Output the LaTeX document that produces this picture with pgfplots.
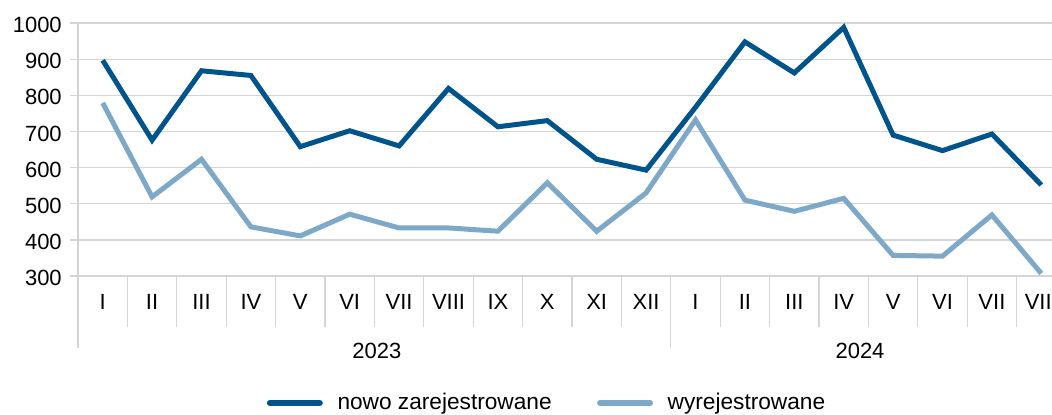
\documentclass[border=0pt]{standalone}
\usepackage{pgfplots}
\pgfplotsset{compat=1.18}
\usepackage{pgfplotstable}
\usepackage{fontspec}
\setmainfont{Liberation Sans}
\definecolor{dkblue}{RGB}{0,84,140}
\definecolor{ltblue}{RGB}{126,168,200}
\definecolor{gridgray}{RGB}{212,212,212}

\pgfplotstableread{
x nowo wyrej
0 897 779
1 676 519
2 868 623
3 855 436
4 658 411
5 702 471
6 660 433
7 819 433
8 713 424
9 730 558
10 623 424
11 593 530
12 767 732
13 948 510
14 862 479
15 988 515
16 690 357
17 647 355
18 693 469
19 552 307
}\data

\begin{document}
\fontsize{16.5}{20}\selectfont
\begin{tikzpicture}
\begin{axis}[
  at={(58.5pt,-207pt)}, anchor=south west,
  x=37.05pt, y=0.271pt,
  xmin=-0.5, xmax=19.5, ymin=300, ymax=1000,
  clip=false,
  axis x line=bottom, axis y line=left,
  axis line style={gridgray, line width=1pt, -},
  ytick={300,400,...,1000},
  ymajorgrids, grid style={gridgray, line width=1pt},
  ytick style={gridgray, line width=1pt},
  xtick style={draw=none},
  tick align=outside,
  major tick length=6pt,
  xtick={0,...,19},
  xticklabels={I,II,III,IV,V,VI,VII,VIII,IX,X,XI,XII,I,II,III,IV,V,VI,VII,VIII},
  xticklabel style={anchor=base, yshift=-19pt},
  yticklabel style={anchor=east, inner sep=0pt, xshift=-6pt, yshift=-1.5pt},
  /pgf/number format/assume math mode=true,
  /pgf/number format/1000 sep={},
  legend columns=2,
  legend style={at={(0.4737,-0.502)}, anchor=center, draw=none, fill=none,
    font=\fontsize{17}{20}\selectfont,
    nodes={inner sep=0pt},
    /tikz/every odd column/.append style={column sep=11pt},
    /tikz/every even column/.append style={column sep=34pt}},
  legend cell align=left,
  legend image code/.code={\draw[#1, line width=4.5pt, line cap=round] (2.25pt,0pt) -- (39.75pt,0pt);},
]
\addplot[dkblue, line width=3.75pt] table[x=x, y=nowo] {\data};
\addlegendentry{nowo zarejestrowane}
\addplot[ltblue, line width=3.75pt] table[x=x, y=wyrej] {\data};
\addlegendentry{wyrejestrowane}
\pgfplotsinvokeforeach{0.5,1.5,2.5,3.5,4.5,5.5,6.5,7.5,8.5,9.5,10.5,12.5,13.5,14.5,15.5,16.5,17.5,18.5}{
  \draw[gridgray, line width=1pt] (axis cs:#1,300) -- (axis cs:#1,158.9);
}
\draw[gridgray, line width=1pt] (axis cs:11.5,300) -- (axis cs:11.5,100.7);
\draw[gridgray, line width=1pt] (axis cs:-0.5,300) -- (axis cs:-0.5,100.7);
\node at (axis cs:5.55,92.4) {2023};
\node at (axis cs:15.33,92.4) {2024};
\end{axis}
\pgfresetboundingbox
\path[use as bounding box] (0,0) rectangle (789pt,-310.5pt);
\end{tikzpicture}
\end{document}
